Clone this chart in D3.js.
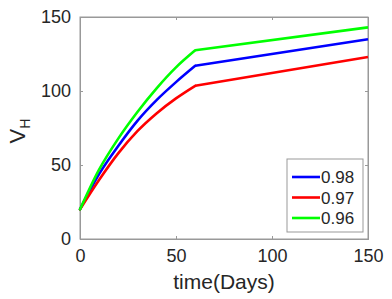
<!DOCTYPE html>
<meta charset="utf-8">
<style>
  body { margin: 0; background: #fff; }
  text { font-family: "Liberation Sans", Arial, sans-serif; fill: #262626; }
</style>
<script src="https://d3js.org/d3.v7.min.js"></script>
<div id="dataviz"></div>
<script>

// time points (days) and V_H values
var days = [0, 10, 20, 30, 40, 50, 60, 150];
var v098 = [20, 44, 63, 80, 94, 106, 117, 135];
var v097 = [20, 40, 58, 73, 85, 95, 103.5, 123];
var v096 = [20, 47, 68, 86, 102, 116, 127.5, 143];

var seriesNames = ["0.98", "0.97", "0.96"];
var seriesColors = ["#0000ff", "#ff0000", "#00ff00"];
var xTicks = [0, 50, 100, 150];
var yTicks = [0, 50, 100, 150];

var margin = {top: 17, right: 24, bottom: 60, left: 80},
    width = 392 - margin.left - margin.right,
    height = 299 - margin.top - margin.bottom;

var svg = d3.select("#dataviz")
  .append("svg")
    .attr("width", 392)
    .attr("height", 299)
  .append("g")
    .attr("transform", "translate(" + margin.left + "," + margin.top + ")");

var x = d3.scaleLinear().domain([0, 150]).range([0, width]);
var y = d3.scaleLinear().domain([0, 150]).range([height, 0]);

var axisColor = "#999";

// box
svg.append("rect")
  .attr("width", width)
  .attr("height", height)
  .style("fill", "none")
  .style("stroke", axisColor)
  .style("stroke-width", 1);

// bottom axis, ticks inside
var xAxis = svg.append("g")
  .attr("transform", "translate(0," + height + ")")
  .call(d3.axisBottom(x).tickValues(xTicks).tickSize(-3).tickPadding(9));
var yAxis = svg.append("g")
  .call(d3.axisLeft(y).tickValues(yTicks).tickSize(-3).tickPadding(9));
// top / right ticks
svg.append("g")
  .call(d3.axisTop(x).tickValues(xTicks).tickSize(-3).tickFormat(""));
svg.append("g")
  .attr("transform", "translate(" + width + ",0)")
  .call(d3.axisRight(y).tickValues(yTicks).tickSize(-3).tickFormat(""));

svg.selectAll(".domain").style("stroke", axisColor);
svg.selectAll(".tick line").style("stroke", axisColor);
svg.selectAll(".tick text")
  .style("font-size", "18px")
  .style("fill", "#262626")
  .style("font-family", "'Liberation Sans', Arial, sans-serif");
xAxis.selectAll(".tick text").attr("dy", "0.75em");

// lines: smooth rise up to day 60, then straight
var allSeries = [v098, v097, v096];
var rise = d3.line()
  .x(function(d) { return x(d[0]); })
  .y(function(d) { return y(d[1]); })
  .curve(d3.curveMonotoneX);
var flat = d3.line()
  .x(function(d) { return x(d[0]); })
  .y(function(d) { return y(d[1]); });

allSeries.forEach(function(s, k) {
  var pts = s.map(function(v, i) { return [days[i], v]; });
  var n = pts.length;
  svg.append("path")
    .datum(pts.slice(0, n - 1))
    .attr("d", rise)
    .style("fill", "none")
    .style("stroke", seriesColors[k])
    .style("stroke-width", 2.6)
    .style("stroke-linecap", "round");
  svg.append("path")
    .datum(pts.slice(n - 2))
    .attr("d", flat)
    .style("fill", "none")
    .style("stroke", seriesColors[k])
    .style("stroke-width", 2.6)
    .style("stroke-linecap", "butt");
});

// axis labels
svg.append("text")
  .attr("x", width / 2)
  .attr("y", height + 50)
  .attr("text-anchor", "middle")
  .style("font-size", "21px")
  .text("time(Days)");

var yl = svg.append("text")
  .attr("transform", "translate(" + (-55) + "," + (height / 2 + 3) + ") rotate(-90)")
  .attr("text-anchor", "middle")
  .style("font-size", "22px");
yl.append("tspan").text("V");
yl.append("tspan")
  .attr("dy", "5")
  .style("font-size", "14px")
  .text("H");

// legend
var lg = svg.append("g")
  .attr("transform", "translate(" + (287 - margin.left) + "," + (159 - margin.top) + ")");
lg.append("rect")
  .attr("width", 76)
  .attr("height", 73)
  .style("fill", "#fff")
  .style("stroke", axisColor)
  .style("stroke-width", 1);
seriesNames.forEach(function(n, k) {
  var yy = 18 + k * 20.5;
  lg.append("line")
    .attr("x1", 5).attr("x2", 33)
    .attr("y1", yy).attr("y2", yy)
    .style("stroke", seriesColors[k])
    .style("stroke-width", 2.6);
  lg.append("text")
    .attr("x", 34)
    .attr("y", yy)
    .attr("dy", "0.36em")
    .style("font-size", "17px")
    .text(n);
});

</script>
